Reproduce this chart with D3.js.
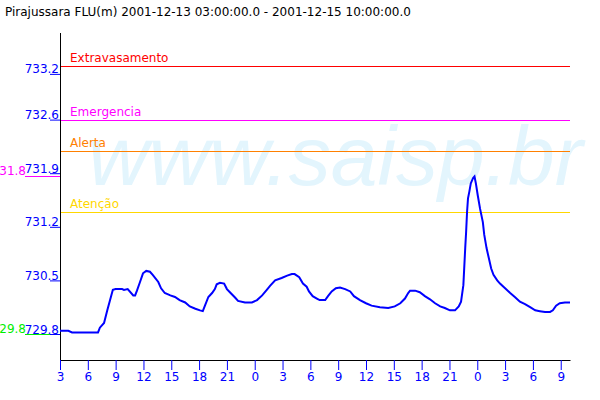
<!DOCTYPE html>
<html><head><meta charset="utf-8">
<script src="https://cdn.jsdelivr.net/npm/d3@7"></script>
<style>body{margin:0;background:#fff}svg{display:block}text{font-family:"DejaVu Sans",sans-serif}</style>
</head><body>
<svg id="c" width="600" height="400"></svg>
<script>
const titleText = "Pirajussara FLU(m) 2001-12-13 03:00:00.0 - 2001-12-15 10:00:00.0";
const startTime = "2001-12-13T03:00:00Z";
const endTime = "2001-12-15T10:00:00Z";
const hoursSinceStart = [0,0.9,1.3,4.1,4.3,4.75,5.1,5.4,5.7,6.0,6.7,6.9,7.3,7.9,8.1,8.3,8.6,8.95,9.3,9.7,10.0,10.6,10.9,11.3,11.9,12.4,12.9,13.5,14.0,14.6,15.1,15.4,15.6,16.0,16.4,16.7,16.9,17.25,17.7,18.0,18.4,18.9,19.2,19.95,20.7,21.25,21.8,22.3,22.65,23.2,23.9,24.5,25.0,25.3,25.8,26.2,26.6,26.85,27.25,27.7,28.0,28.6,28.9,29.3,29.75,30.2,30.75,31.3,31.7,32.35,33.0,33.6,34.5,35.4,36.1,36.7,37.2,37.55,37.75,38.3,38.8,39.35,39.9,40.45,41.0,41.5,42.05,42.6,43.0,43.25,43.5,43.7,43.8,43.9,44.0,44.15,44.3,44.55,44.7,44.85,45.05,45.3,45.6,45.75,46.0,46.25,46.5,46.75,47.15,47.45,48.0,48.55,49.05,49.6,50.15,50.7,51.25,51.75,52.3,52.85,53.15,53.5,53.9,54.45,55];
const levels = [729.84,729.84,729.82,729.82,729.88,729.94,730.10,730.23,730.36,730.37,730.37,730.36,730.37,730.29,730.29,730.35,730.45,730.57,730.60,730.59,730.55,730.46,730.38,730.32,730.29,730.27,730.23,730.20,730.15,730.12,730.10,730.09,730.15,730.27,730.32,730.37,730.43,730.45,730.44,730.37,730.32,730.26,730.22,730.20,730.20,730.23,730.29,730.36,730.41,730.48,730.51,730.54,730.56,730.56,730.52,730.44,730.40,730.34,730.28,730.25,730.23,730.23,730.28,730.34,730.38,730.39,730.37,730.34,730.28,730.23,730.19,730.16,730.14,730.13,730.15,730.19,730.25,730.32,730.35,730.35,730.33,730.28,730.24,730.19,730.15,730.13,730.10,730.10,730.15,730.21,730.42,730.89,731.10,731.35,731.52,731.61,731.71,731.78,731.80,731.71,731.56,731.39,731.22,731.06,730.89,730.76,730.63,730.55,730.48,730.44,730.38,730.32,730.27,730.21,730.18,730.14,730.10,730.09,730.08,730.08,730.10,730.16,730.19,730.20,730.20];
const yTickValues = [729.8,730.48,731.16,731.84,732.52,733.1];
const yTickLabels = ["729.8","730.5","731.2","731.9","732.6","733.2"];
const thresholdNames = ["Extravasamento","Emergencia","Alerta","Atenção"];
const thresholdValues = [733.2,732.52,732.12,731.35];
const thresholdColors = ["#ff0000","#ff00ff","#ff8000","#ffd700"];
const minLabel = "729.8", minValue = 729.8;
const maxLabel = "731.8", maxValue = 731.8;

const svg = d3.select("#c");
const t0 = new Date(startTime), t1 = new Date(endTime);
const x = d3.scaleUtc().domain([t0, t1]).range([60, 570]);
const y = d3.scaleLinear().domain([729.8, 733.2]).range([334, 66]);
const data = hoursSinceStart.map((h,i)=>({t:new Date(t0.getTime()+h*3600000), v:levels[i]}));

// watermark
svg.append("text").attr("x",88).attr("y",185).text("www.saisp.br")
  .style("font-family","'Liberation Sans',Arial,sans-serif").style("font-style","italic")
  .style("font-size","84px").attr("fill","#e3f5fd");

// title
svg.append("text").attr("x",5).attr("y",16).text(titleText).style("font-size","12px").attr("fill","#000");

// thresholds
thresholdNames.forEach((n,i)=>{
  const yy = Math.round(y(thresholdValues[i]));
  svg.append("rect").attr("x",60).attr("width",510).attr("y",yy).attr("height",1)
    .attr("fill",thresholdColors[i]);
  svg.append("text").attr("x",70).attr("y",yy-4).text(n)
    .style("font-size","12px").attr("fill",thresholdColors[i]);
});

// min/max markers
[[minLabel,minValue,"#00ee00"],[maxLabel,maxValue,"#ff00ff"]].forEach(([l,v,c])=>{
  const yy = Math.round(y(v));
  svg.append("rect").attr("x",25).attr("width",35).attr("y",yy).attr("height",1).attr("fill",c);
  svg.append("text").attr("x",26).attr("y",yy-1).attr("text-anchor","end").text(l).style("font-size","12px").attr("fill",c);
});

// axes
const xAxis = svg.append("g").attr("transform","translate(0,360)")
  .call(d3.axisBottom(x).ticks(d3.utcHour.every(3)).tickFormat(d3.utcFormat("%-H")).tickSize(10).tickSizeOuter(0).tickPadding(2));
xAxis.select(".domain").attr("stroke","#000");
xAxis.selectAll(".tick line").attr("stroke","#0000ff");
xAxis.selectAll(".tick text").attr("fill","#0000ff").style("font-size","12px").style("font-family","'DejaVu Sans',sans-serif");

const yAxis = svg.append("g").attr("transform","translate(60,0)")
  .call(d3.axisLeft(y).tickValues(yTickValues).tickFormat((d,i)=>yTickLabels[i]).tickSize(10).tickSizeOuter(0));
yAxis.select(".domain").remove();
yAxis.selectAll(".tick line").attr("stroke","#0000ff");
yAxis.selectAll(".tick text").attr("fill","#0000ff").attr("x",-1).attr("dy","-1").style("font-size","12px").style("font-family","'DejaVu Sans',sans-serif");
svg.append("rect").attr("x",60).attr("width",1).attr("y",33).attr("height",327).attr("fill","#000");

// series
svg.append("path").datum(data).attr("fill","none").attr("stroke","#0000ff").attr("stroke-width",2)
  .attr("d", d3.line().x(d=>x(d.t)).y(d=>y(d.v)));
</script>
</body></html>
